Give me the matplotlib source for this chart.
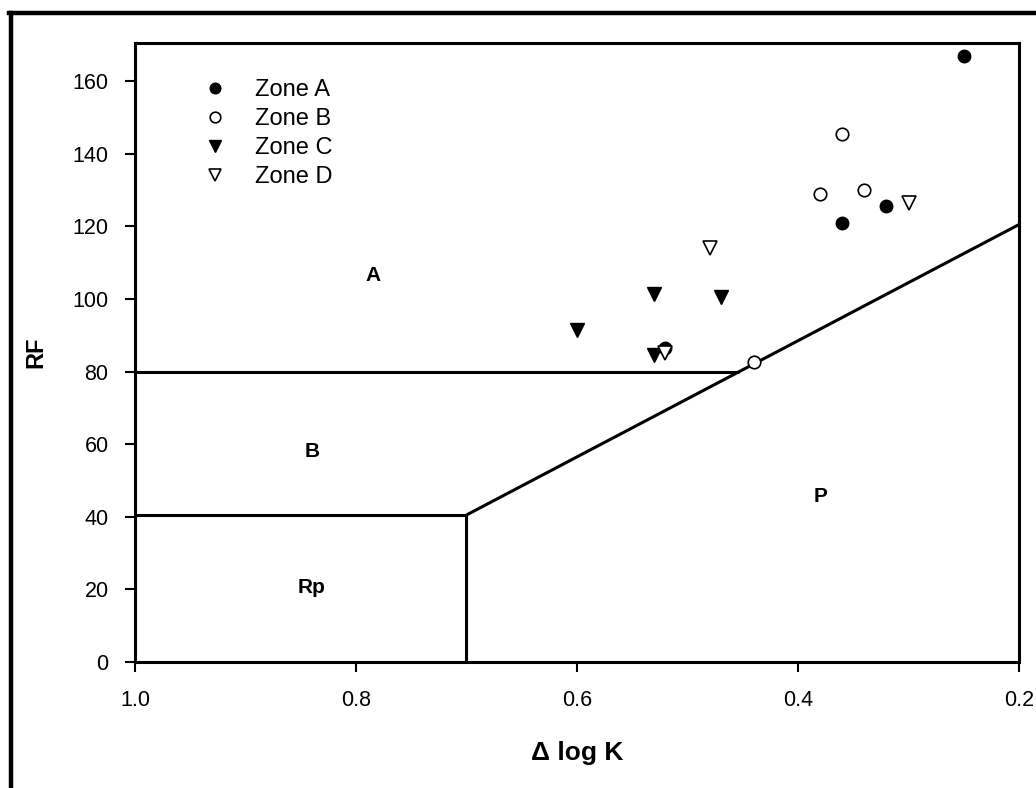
import matplotlib
matplotlib.use("Agg")
import matplotlib.pyplot as plt
from matplotlib.lines import Line2D

plt.rcParams['font.family'] = ['Liberation Sans', 'DejaVu Sans']

# ---- data ----
zone_a_x = [0.52, 0.25, 0.36, 0.32]
zone_a_y = [86.5, 167.0, 121.0, 125.5]
zone_b_x = [0.36, 0.38, 0.34, 0.44]
zone_b_y = [145.5, 129.0, 130.0, 82.5]
zone_c_x = [0.60, 0.53, 0.47, 0.53]
zone_c_y = [91.5, 101.5, 100.5, 84.5]
zone_d_x = [0.48, 0.52, 0.30]
zone_d_y = [114.0, 85.0, 126.5]

# boundaries
bound_ab_x = [1.0, 0.453]
bound_ab_y = [80.0, 80.0]
bound_brp_x = [1.0, 0.70]
bound_brp_y = [40.5, 40.5]
bound_rpp_x = [0.70, 0.70]
bound_rpp_y = [0.0, 40.5]
bound_diag_x = [0.70, 0.20]
bound_diag_y = [40.5, 120.5]

region_labels = ['A', 'B', 'Rp', 'P']
region_x = [0.785, 0.84, 0.84, 0.38]
region_y = [106.5, 58.0, 20.5, 45.5]

x_ticks = [1.0, 0.8, 0.6, 0.4, 0.2]
x_ticklabels = ['1.0', '0.8', '0.6', '0.4', '0.2']
y_ticks = [0, 20, 40, 60, 80, 100, 120, 140, 160]

fig = plt.figure(figsize=(10.36, 7.88), dpi=100)
ax = fig.add_axes([0.1303, 0.1599, 0.8533, 0.7855])

lw = 2.2
for bx, by in [(bound_ab_x, bound_ab_y), (bound_brp_x, bound_brp_y),
               (bound_rpp_x, bound_rpp_y), (bound_diag_x, bound_diag_y)]:
    ax.plot(bx, by, color='black', lw=lw, solid_capstyle='butt', zorder=2)

ms = 9
ax.plot(zone_a_x, zone_a_y, 'o', color='black', ms=ms, ls='none', label='Zone A', zorder=3)
ax.plot(zone_b_x, zone_b_y, 'o', mfc='white', mec='black', mew=1.2, ms=ms, ls='none', label='Zone B', zorder=3)
ax.plot(zone_c_x, zone_c_y, 'v', color='black', ms=ms + 1, ls='none', label='Zone C', zorder=4)
ax.plot(zone_d_x, zone_d_y, 'v', mfc='white', mec='black', mew=1.2, ms=ms + 1, ls='none', label='Zone D', zorder=4)

for lab, x, y in zip(region_labels, region_x, region_y):
    ax.text(x, y, lab, ha='center', va='center', fontsize=15, fontweight='bold')

ax.set_xlim(1.0, 0.2)
ax.set_ylim(0, 170.5)
ax.set_xticks(x_ticks)
ax.set_xticklabels(x_ticklabels)
ax.set_yticks(y_ticks)
ax.tick_params(direction='out', length=7, width=1.5, labelsize=15.5)
ax.tick_params(axis='x', pad=13)
ax.tick_params(axis='y', pad=12)
for s in ax.spines.values():
    s.set_linewidth(2.2)

ax.set_ylabel('RF', fontsize=17, fontweight='bold', labelpad=18)
ax.set_xlabel('\u0394 log K', fontsize=19, fontweight='bold', labelpad=22)

leg = ax.legend(loc='upper left', bbox_to_anchor=(0.07, 0.9415), frameon=False,
                fontsize=17, handletextpad=0.95, labelspacing=0.3, handlelength=1.5,
                borderpad=0, borderaxespad=0, markerscale=0.85)

# outer frame lines (left & top)
fig.add_artist(Line2D([0.0102, 0.0102], [0.0, 0.984], transform=fig.transFigure, color='black', lw=3.2))
fig.add_artist(Line2D([0.0083, 1.0], [0.984, 0.984], transform=fig.transFigure, color='black', lw=3.2))

fig.savefig('out.png', dpi=100)
